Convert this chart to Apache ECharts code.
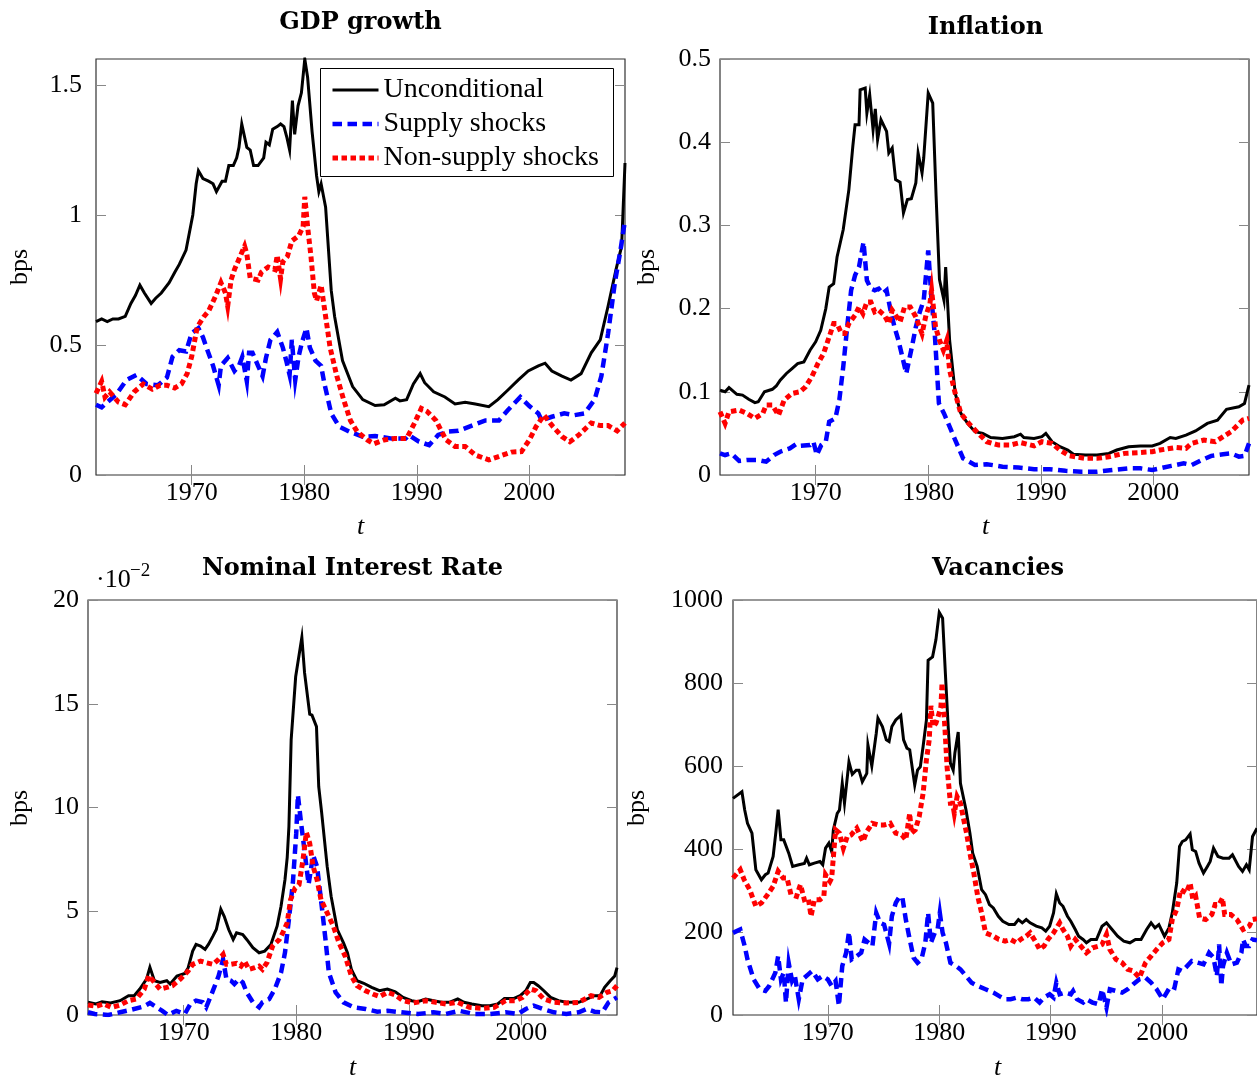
<!DOCTYPE html>
<html><head><meta charset="utf-8">
<script src="https://cdn.jsdelivr.net/npm/echarts@6/dist/echarts.min.js"></script>
<style>html,body{margin:0;padding:0;background:#fff}#c{width:1257px;height:1082px}</style>
</head><body><div id="c"></div>
<script>
// ---------- data ----------
const xRange = [1961.5, 2008.5];
const xTickValues = [1970, 1980, 1990, 2000];
const panelTitles = ['GDP growth', 'Inflation', 'Nominal Interest Rate', 'Vacancies'];
const seriesNames = ['Unconditional', 'Supply shocks', 'Non-supply shocks'];
const gdpYTicks = [0, 0.5, 1, 1.5];
const gdpYMax = 1.6;
const infYTicks = [0, 0.1, 0.2, 0.3, 0.4, 0.5];
const nirYTicks = [0, 5, 10, 15, 20];   // in units of 10^-2
const vacYTicks = [0, 200, 400, 600, 800, 1000];

const gdpUncond = [[1961.5,0.59],[1962.0,0.60],[1962.5,0.59],[1963.0,0.60],[1963.5,0.60],[1964.1,0.61],[1964.6,0.66],[1965.0,0.69],[1965.4,0.73],[1965.8,0.70],[1966.4,0.66],[1966.8,0.68],[1967.3,0.70],[1968.0,0.74],[1968.5,0.78],[1968.9,0.81],[1969.5,0.865],[1970.1,1.0],[1970.4,1.12],[1970.6,1.17],[1971.0,1.14],[1971.5,1.13],[1971.9,1.12],[1972.2,1.09],[1972.7,1.13],[1973.0,1.13],[1973.3,1.19],[1973.7,1.19],[1974.0,1.22],[1974.2,1.26],[1974.45,1.35],[1974.9,1.26],[1975.2,1.25],[1975.5,1.19],[1975.9,1.19],[1976.4,1.22],[1976.6,1.28],[1976.9,1.27],[1977.2,1.33],[1977.6,1.34],[1977.9,1.35],[1978.2,1.34],[1978.45,1.30],[1978.7,1.25],[1978.95,1.44],[1979.15,1.31],[1979.45,1.42],[1979.75,1.47],[1980.05,1.60],[1980.3,1.53],[1980.7,1.32],[1981.1,1.15],[1981.3,1.09],[1981.5,1.12],[1981.9,1.03],[1982.4,0.71],[1982.7,0.61],[1983.4,0.44],[1984.3,0.34],[1985.2,0.29],[1986.3,0.267],[1987.1,0.27],[1988.1,0.295],[1988.5,0.285],[1989.1,0.29],[1989.7,0.35],[1990.3,0.39],[1990.7,0.355],[1991.5,0.32],[1992.5,0.30],[1993.4,0.273],[1994.3,0.28],[1995.2,0.273],[1996.4,0.263],[1997.2,0.29],[1998.1,0.327],[1999.0,0.365],[1999.9,0.40],[2000.8,0.42],[2001.4,0.43],[2002.0,0.40],[2002.9,0.38],[2003.7,0.365],[2004.6,0.39],[2005.5,0.47],[2006.3,0.52],[2007.0,0.65],[2007.7,0.79],[2008.2,0.88],[2008.5,1.20]];
const gdpSupply = [[1961.5,0.27],[1962.0,0.26],[1962.5,0.28],[1963.3,0.31],[1964.2,0.365],[1965.1,0.385],[1966.0,0.35],[1967.0,0.345],[1967.8,0.375],[1968.3,0.455],[1968.9,0.48],[1969.5,0.475],[1970.0,0.545],[1970.6,0.565],[1971.0,0.53],[1971.4,0.48],[1971.9,0.42],[1972.4,0.345],[1972.6,0.42],[1973.2,0.45],[1973.8,0.40],[1974.2,0.42],[1974.5,0.455],[1974.9,0.36],[1975.1,0.47],[1975.4,0.47],[1975.9,0.42],[1976.3,0.38],[1976.6,0.45],[1977.0,0.52],[1977.6,0.55],[1978.1,0.49],[1978.4,0.44],[1978.7,0.385],[1978.9,0.52],[1979.2,0.365],[1979.5,0.455],[1979.8,0.51],[1980.2,0.565],[1980.5,0.49],[1981.0,0.44],[1981.5,0.42],[1981.8,0.35],[1982.4,0.237],[1983.1,0.186],[1984.0,0.167],[1985.2,0.147],[1986.3,0.15],[1987.8,0.14],[1989.0,0.14],[1989.3,0.154],[1990.2,0.128],[1991.1,0.115],[1991.9,0.154],[1992.8,0.167],[1993.7,0.17],[1994.9,0.19],[1996.1,0.21],[1997.3,0.21],[1998.1,0.25],[1999.2,0.30],[2000.0,0.265],[2000.8,0.237],[2001.1,0.21],[2002.0,0.224],[2003.1,0.237],[2004.0,0.23],[2004.9,0.237],[2005.8,0.29],[2006.4,0.38],[2007.0,0.545],[2007.6,0.74],[2008.1,0.865],[2008.5,0.98]];
const gdpNonSupply = [[1961.5,0.314],[1962.0,0.36],[1962.3,0.30],[1962.7,0.32],[1963.5,0.28],[1964.1,0.27],[1964.9,0.32],[1965.7,0.35],[1966.5,0.33],[1967.2,0.345],[1967.8,0.345],[1968.5,0.335],[1969.1,0.35],[1969.6,0.39],[1970.0,0.455],[1970.5,0.57],[1971.1,0.61],[1971.5,0.63],[1972.1,0.686],[1972.6,0.74],[1973.0,0.70],[1973.2,0.65],[1973.5,0.75],[1973.8,0.79],[1974.4,0.85],[1974.7,0.88],[1974.9,0.85],[1975.2,0.757],[1975.9,0.75],[1976.2,0.78],[1976.8,0.80],[1977.4,0.79],[1977.6,0.845],[1977.9,0.755],[1978.1,0.82],[1978.5,0.84],[1978.9,0.90],[1979.5,0.92],[1979.9,0.955],[1980.05,1.07],[1980.3,0.955],[1980.6,0.84],[1980.9,0.70],[1981.1,0.67],[1981.5,0.73],[1981.8,0.64],[1982.3,0.49],[1982.9,0.38],[1983.5,0.29],[1984.1,0.21],[1984.7,0.167],[1985.6,0.135],[1986.2,0.12],[1987.1,0.135],[1988.0,0.14],[1989.1,0.14],[1989.8,0.20],[1990.4,0.256],[1990.9,0.245],[1991.7,0.21],[1992.6,0.135],[1993.4,0.11],[1994.3,0.11],[1995.2,0.077],[1996.4,0.058],[1997.2,0.07],[1998.4,0.088],[1999.3,0.09],[2000.0,0.135],[2000.6,0.186],[2001.3,0.23],[2002.1,0.186],[2002.9,0.148],[2003.6,0.128],[2004.4,0.154],[2005.5,0.20],[2006.3,0.19],[2007.0,0.19],[2007.8,0.17],[2008.5,0.20]];

const infUncond = [[1961.5,0.102],[1961.95,0.10],[1962.3,0.105],[1963.0,0.097],[1963.5,0.096],[1964.05,0.091],[1964.6,0.087],[1964.9,0.088],[1965.45,0.10],[1966.15,0.103],[1966.5,0.107],[1966.85,0.114],[1967.4,0.122],[1967.9,0.128],[1968.4,0.134],[1968.95,0.136],[1969.5,0.15],[1970.0,0.16],[1970.45,0.174],[1970.9,0.20],[1971.2,0.226],[1971.6,0.23],[1971.9,0.262],[1972.45,0.295],[1972.95,0.343],[1973.3,0.395],[1973.5,0.421],[1973.85,0.421],[1973.95,0.463],[1974.4,0.465],[1974.55,0.435],[1974.8,0.457],[1975.1,0.415],[1975.3,0.44],[1975.5,0.403],[1975.8,0.427],[1976.3,0.413],[1976.5,0.387],[1976.8,0.393],[1977.1,0.355],[1977.5,0.352],[1977.8,0.315],[1978.15,0.331],[1978.5,0.332],[1978.9,0.351],[1979.1,0.387],[1979.45,0.363],[1979.6,0.381],[1980.0,0.459],[1980.4,0.447],[1980.7,0.335],[1981.0,0.235],[1981.4,0.21],[1981.55,0.25],[1981.9,0.162],[1982.4,0.098],[1982.9,0.074],[1983.5,0.062],[1984.15,0.052],[1984.85,0.05],[1985.55,0.045],[1986.6,0.044],[1987.65,0.046],[1988.2,0.049],[1988.5,0.045],[1989.4,0.044],[1990.1,0.046],[1990.45,0.05],[1991.0,0.04],[1991.7,0.034],[1992.4,0.03],[1992.9,0.025],[1993.95,0.024],[1995.0,0.024],[1996.05,0.026],[1996.75,0.03],[1997.8,0.034],[1998.85,0.035],[1999.9,0.035],[2000.6,0.038],[2001.5,0.045],[2002.0,0.044],[2002.9,0.048],[2003.75,0.053],[2004.8,0.062],[2005.7,0.066],[2006.5,0.079],[2007.6,0.082],[2008.1,0.086],[2008.5,0.108]];
const infSupply = [[1961.5,0.026],[1961.95,0.024],[1962.5,0.026],[1963.2,0.017],[1963.9,0.018],[1964.9,0.018],[1965.6,0.016],[1966.3,0.024],[1966.85,0.028],[1967.7,0.032],[1968.25,0.037],[1968.6,0.035],[1969.5,0.036],[1969.8,0.04],[1970.1,0.024],[1970.5,0.036],[1970.9,0.04],[1971.2,0.064],[1971.75,0.068],[1972.1,0.09],[1972.45,0.13],[1972.8,0.178],[1973.15,0.222],[1973.5,0.24],[1973.85,0.25],[1974.25,0.28],[1974.55,0.234],[1974.9,0.224],[1975.25,0.222],[1975.6,0.224],[1975.95,0.218],[1976.3,0.222],[1976.65,0.198],[1977.0,0.178],[1977.35,0.162],[1977.7,0.142],[1978.05,0.122],[1978.55,0.154],[1978.9,0.178],[1979.25,0.196],[1979.6,0.21],[1980.0,0.27],[1980.3,0.21],[1980.6,0.166],[1980.95,0.086],[1981.4,0.074],[1981.9,0.058],[1982.4,0.042],[1983.1,0.02],[1984.15,0.012],[1985.2,0.013],[1986.6,0.01],[1988.0,0.009],[1989.4,0.007],[1990.8,0.007],[1992.2,0.005],[1993.6,0.004],[1995.0,0.004],[1996.4,0.006],[1997.8,0.008],[1998.85,0.008],[1999.9,0.006],[2000.6,0.008],[2001.6,0.011],[2002.7,0.014],[2003.4,0.012],[2004.3,0.018],[2005.15,0.023],[2006.2,0.025],[2006.9,0.026],[2007.6,0.022],[2008.1,0.023],[2008.5,0.038]];
const infNonSupply = [[1961.5,0.076],[1961.95,0.062],[1962.3,0.076],[1963.2,0.078],[1963.9,0.074],[1964.6,0.068],[1965.3,0.074],[1965.6,0.084],[1966.15,0.084],[1966.7,0.072],[1967.2,0.09],[1967.9,0.098],[1968.6,0.10],[1969.1,0.106],[1969.65,0.118],[1970.2,0.134],[1970.7,0.146],[1971.15,0.164],[1971.6,0.182],[1971.9,0.182],[1972.3,0.17],[1972.6,0.17],[1972.95,0.182],[1973.5,0.192],[1973.85,0.202],[1974.2,0.194],[1974.55,0.208],[1974.9,0.208],[1975.25,0.196],[1975.6,0.198],[1976.1,0.192],[1976.5,0.182],[1976.8,0.198],[1977.2,0.19],[1977.5,0.184],[1977.9,0.202],[1978.4,0.202],[1978.9,0.19],[1979.45,0.17],[1979.8,0.192],[1980.15,0.206],[1980.3,0.222],[1980.65,0.178],[1981.0,0.162],[1981.35,0.15],[1981.65,0.162],[1981.9,0.126],[1982.4,0.098],[1982.9,0.074],[1983.6,0.062],[1984.3,0.052],[1985.2,0.04],[1986.25,0.036],[1987.3,0.036],[1988.2,0.039],[1989.4,0.035],[1990.1,0.04],[1991.0,0.038],[1991.7,0.03],[1992.55,0.023],[1993.95,0.02],[1995.0,0.02],[1996.05,0.022],[1997.45,0.026],[1998.85,0.027],[1999.9,0.028],[2000.6,0.03],[2002.0,0.033],[2002.9,0.032],[2003.4,0.038],[2004.5,0.042],[2005.5,0.04],[2006.2,0.046],[2006.9,0.052],[2007.95,0.066],[2008.5,0.068]];

const nirUncond = [[1961.5,0.61],[1962.2,0.53],[1962.75,0.64],[1963.5,0.58],[1964.35,0.69],[1965.1,0.93],[1965.6,0.93],[1966.1,1.25],[1966.7,1.73],[1967.0,2.3],[1967.4,1.65],[1967.9,1.57],[1968.5,1.65],[1968.8,1.49],[1969.4,1.88],[1970.1,2.0],[1970.4,2.28],[1970.8,3.08],[1971.1,3.4],[1971.5,3.32],[1971.9,3.16],[1972.2,3.4],[1972.6,3.8],[1972.9,4.12],[1973.3,5.1],[1973.6,4.76],[1974.0,4.12],[1974.4,3.64],[1974.7,3.96],[1975.25,3.88],[1975.6,3.64],[1976.15,3.24],[1976.7,3.0],[1977.2,3.08],[1977.75,3.4],[1978.3,4.28],[1978.65,5.24],[1979.0,6.52],[1979.2,7.6],[1979.35,9.07],[1979.55,13.26],[1979.95,16.3],[1980.5,18.2],[1980.74,16.5],[1981.2,14.5],[1981.4,14.45],[1981.57,14.5],[1981.8,13.9],[1982.0,11.0],[1982.25,9.8],[1982.75,7.16],[1983.1,5.72],[1983.65,4.12],[1984.2,3.48],[1984.55,3.0],[1984.9,2.2],[1985.4,1.65],[1986.0,1.53],[1986.7,1.33],[1987.4,1.17],[1988.1,1.25],[1988.8,1.12],[1989.5,0.85],[1990.25,0.69],[1990.8,0.64],[1991.5,0.77],[1992.2,0.69],[1992.9,0.61],[1993.6,0.61],[1994.35,0.77],[1994.9,0.61],[1995.6,0.53],[1996.5,0.45],[1997.2,0.45],[1997.9,0.53],[1998.5,0.8],[1999.35,0.8],[1999.9,0.93],[2000.4,1.17],[2000.8,1.57],[2001.1,1.57],[2001.5,1.41],[2002.0,1.17],[2002.6,0.85],[2003.3,0.69],[2004.0,0.61],[2005.1,0.61],[2005.8,0.77],[2006.5,0.93],[2007.0,0.93],[2007.4,1.33],[2007.9,1.65],[2008.3,1.88],[2008.5,2.28]];
const nirSupply = [[1961.5,0.13],[1962.1,0.05],[1963.3,0.0],[1964.35,0.13],[1965.4,0.26],[1966.5,0.42],[1967.0,0.58],[1967.6,0.37],[1968.1,0.2],[1968.6,0.0],[1969.35,0.2],[1970.1,0.05],[1970.6,0.53],[1971.1,0.69],[1971.7,0.61],[1972.0,0.37],[1972.6,1.17],[1973.1,1.88],[1973.5,2.68],[1973.8,1.73],[1974.2,1.65],[1974.5,1.49],[1974.9,1.73],[1975.25,1.57],[1975.6,1.09],[1976.15,0.61],[1976.7,0.37],[1977.0,0.61],[1977.6,0.77],[1978.1,1.25],[1978.65,2.04],[1979.0,3.0],[1979.35,4.6],[1979.7,6.36],[1980.0,8.75],[1980.15,10.6],[1980.4,9.4],[1980.8,7.64],[1981.1,6.3],[1981.5,7.7],[1981.85,7.16],[1982.2,5.56],[1982.6,3.64],[1982.9,2.04],[1983.5,1.09],[1984.2,0.61],[1985.1,0.37],[1986.15,0.29],[1987.2,0.16],[1988.1,0.2],[1989.35,0.13],[1990.8,0.05],[1992.2,0.13],[1993.3,0.05],[1994.5,0.2],[1995.8,0.05],[1997.2,0.05],[1998.6,0.13],[1999.7,0.05],[2000.4,0.29],[2001.1,0.45],[2001.9,0.29],[2002.9,0.13],[2004.0,0.05],[2005.1,0.13],[2005.8,0.29],[2006.5,0.16],[2007.2,0.13],[2007.75,0.61],[2008.5,0.85]];
const nirNonSupply = [[1961.5,0.48],[1962.2,0.42],[1962.9,0.53],[1963.6,0.37],[1964.35,0.48],[1965.1,0.69],[1965.8,0.77],[1966.5,1.25],[1966.9,1.9],[1967.4,1.57],[1967.9,1.25],[1968.5,1.33],[1969.0,1.41],[1969.7,1.73],[1970.4,2.12],[1970.8,2.44],[1971.5,2.6],[1972.0,2.52],[1972.6,2.44],[1973.1,2.68],[1973.5,2.92],[1973.8,2.44],[1974.2,2.44],[1974.7,2.49],[1975.1,2.36],[1975.4,2.6],[1975.8,2.2],[1976.3,2.28],[1976.7,2.36],[1977.0,2.2],[1977.4,2.52],[1977.9,3.32],[1978.5,3.64],[1978.8,3.96],[1979.2,4.44],[1979.5,5.56],[1979.9,6.12],[1980.25,6.28],[1980.6,7.48],[1980.9,8.8],[1981.2,8.27],[1981.5,7.16],[1981.85,6.52],[1982.2,5.56],[1982.75,4.92],[1983.3,4.28],[1983.8,3.48],[1984.35,2.84],[1984.9,1.88],[1985.4,1.41],[1986.15,1.17],[1986.85,1.0],[1987.4,0.89],[1988.1,1.09],[1988.8,0.96],[1989.5,0.69],[1990.4,0.58],[1991.5,0.69],[1992.4,0.61],[1993.3,0.53],[1994.35,0.61],[1995.4,0.37],[1996.5,0.32],[1997.6,0.37],[1998.6,0.69],[1999.5,0.69],[2000.1,0.85],[2000.8,1.25],[2001.3,1.17],[2002.0,0.77],[2002.9,0.61],[2004.0,0.58],[2005.1,0.61],[2006.2,0.93],[2006.9,0.85],[2007.6,1.09],[2008.1,1.17],[2008.5,1.41]];

const vacUncond = [[1961.5,522],[1962.3,538],[1962.55,494],[1962.8,462],[1963.2,438],[1963.55,350],[1964.05,326],[1964.4,338],[1964.65,342],[1965.1,382],[1965.35,442],[1965.55,495],[1965.8,422],[1966.05,422],[1966.5,390],[1966.85,358],[1967.4,362],[1967.9,365],[1968.1,378],[1968.35,362],[1968.8,366],[1969.3,370],[1969.55,362],[1969.8,402],[1970.1,414],[1970.35,394],[1970.5,446],[1970.85,486],[1971.05,494],[1971.3,558],[1971.5,510],[1971.9,610],[1972.2,580],[1972.55,590],[1972.8,590],[1973.1,562],[1973.5,582],[1973.6,651],[1973.95,600],[1974.35,679],[1974.5,715],[1974.9,695],[1975.25,663],[1975.5,659],[1975.75,695],[1976.1,711],[1976.55,722],[1976.8,663],[1977.1,643],[1977.35,639],[1977.8,554],[1978.05,590],[1978.3,598],[1978.55,647],[1978.85,711],[1979.0,855],[1979.4,863],[1979.7,904],[1980.0,970],[1980.3,956],[1980.55,823],[1980.8,695],[1981.0,607],[1981.25,590],[1981.4,631],[1981.7,682],[1981.9,558],[1982.4,494],[1982.75,438],[1983.0,390],[1983.4,358],[1983.8,302],[1984.15,290],[1984.5,266],[1984.85,258],[1985.3,238],[1985.7,226],[1986.25,218],[1986.75,218],[1987.1,230],[1987.45,222],[1987.8,230],[1988.15,222],[1988.7,214],[1989.2,210],[1989.55,202],[1989.9,214],[1990.25,246],[1990.5,292],[1990.8,270],[1991.1,262],[1991.5,238],[1991.8,226],[1992.2,206],[1992.5,190],[1992.9,182],[1993.2,174],[1993.6,182],[1994.1,182],[1994.6,214],[1995.0,222],[1995.5,206],[1996.0,190],[1996.55,178],[1997.1,174],[1997.6,182],[1998.1,182],[1998.6,206],[1999.0,222],[1999.35,210],[1999.7,218],[2000.2,190],[2000.6,210],[2000.9,246],[2001.3,318],[2001.55,406],[2001.8,418],[2002.1,422],[2002.5,436],[2002.7,398],[2003.0,394],[2003.3,366],[2003.7,342],[2004.05,358],[2004.3,370],[2004.6,402],[2005.0,382],[2005.45,378],[2006.0,378],[2006.3,386],[2006.85,358],[2007.2,346],[2007.55,362],[2007.8,350],[2008.1,430],[2008.5,450]];
const vacSupply = [[1961.5,198],[1962.15,206],[1962.55,166],[1962.8,134],[1963.35,86],[1963.9,62],[1964.4,58],[1964.75,70],[1965.3,102],[1965.55,142],[1965.8,86],[1966.05,102],[1966.25,30],[1966.5,125],[1966.8,82],[1967.05,94],[1967.4,38],[1967.75,86],[1968.25,98],[1968.6,106],[1969.1,86],[1969.55,94],[1970.0,86],[1970.35,70],[1970.7,82],[1971.0,22],[1971.3,118],[1971.65,150],[1971.9,200],[1972.15,134],[1972.6,142],[1973.0,150],[1973.3,182],[1973.65,174],[1974.0,166],[1974.35,246],[1974.7,222],[1975.05,218],[1975.5,172],[1975.75,238],[1976.1,270],[1976.45,286],[1976.7,282],[1977.0,230],[1977.35,182],[1977.7,138],[1978.05,126],[1978.4,134],[1978.75,174],[1979.0,246],[1979.25,174],[1979.6,198],[1979.85,206],[1980.05,246],[1980.3,198],[1980.6,174],[1981.0,126],[1981.5,118],[1981.9,110],[1982.4,94],[1982.9,78],[1983.45,70],[1984.15,62],[1984.85,54],[1985.35,46],[1985.9,38],[1986.4,38],[1986.95,42],[1987.45,38],[1988.0,38],[1988.5,42],[1989.0,30],[1989.4,42],[1989.9,50],[1990.25,42],[1990.5,78],[1990.8,50],[1991.3,54],[1991.8,50],[1992.0,58],[1992.35,38],[1992.9,30],[1993.2,38],[1993.75,30],[1994.3,26],[1994.6,62],[1995.0,18],[1995.3,62],[1995.85,58],[1996.4,54],[1996.9,62],[1997.4,74],[1997.95,86],[1998.5,90],[1999.0,78],[1999.5,62],[2000.05,38],[2000.4,54],[2000.75,70],[2001.1,66],[2001.45,110],[2001.8,106],[2002.1,114],[2002.65,130],[2003.2,126],[2003.7,122],[2004.2,150],[2004.6,138],[2004.9,94],[2005.1,170],[2005.3,70],[2005.45,118],[2005.8,150],[2006.2,122],[2006.7,126],[2007.1,150],[2007.25,182],[2007.5,166],[2007.8,166],[2008.1,182],[2008.5,180]];
const vacNonSupply = [[1961.5,330],[1962.15,350],[1962.5,326],[1963.0,302],[1963.55,262],[1964.05,270],[1964.6,290],[1965.1,310],[1965.55,346],[1966.0,330],[1966.35,330],[1966.7,290],[1967.2,286],[1967.55,314],[1967.9,278],[1968.25,282],[1968.5,238],[1968.8,278],[1969.3,278],[1969.65,286],[1969.8,338],[1970.2,322],[1970.35,330],[1970.7,446],[1971.05,438],[1971.4,402],[1971.75,430],[1972.1,434],[1972.6,450],[1973.15,418],[1973.5,442],[1974.0,462],[1974.55,458],[1975.05,458],[1975.6,462],[1976.1,438],[1976.65,434],[1977.0,422],[1977.35,486],[1977.5,438],[1977.85,446],[1978.2,478],[1978.55,534],[1978.85,615],[1979.1,663],[1979.25,745],[1979.45,695],[1979.7,703],[1979.9,719],[1980.15,743],[1980.25,800],[1980.5,695],[1980.7,598],[1981.0,510],[1981.2,510],[1981.35,486],[1981.6,526],[1981.9,510],[1982.2,470],[1982.45,438],[1982.75,390],[1983.1,342],[1983.45,286],[1983.8,246],[1984.15,198],[1984.5,194],[1984.85,190],[1985.35,182],[1985.9,178],[1986.4,182],[1986.95,174],[1987.3,182],[1987.8,190],[1988.15,198],[1988.7,174],[1989.0,158],[1989.4,166],[1989.75,182],[1990.25,198],[1990.8,222],[1991.1,206],[1991.5,190],[1991.8,166],[1992.2,182],[1992.7,166],[1993.2,150],[1993.75,162],[1994.3,166],[1994.6,170],[1995.0,194],[1995.3,158],[1995.85,134],[1996.4,126],[1996.9,110],[1997.4,106],[1997.95,90],[1998.5,126],[1999.0,142],[1999.5,158],[2000.05,174],[2000.6,182],[2000.9,230],[2001.3,254],[2001.65,302],[2002.15,294],[2002.5,318],[2002.75,278],[2003.0,286],[2003.35,234],[2003.9,230],[2004.45,242],[2004.75,266],[2005.1,266],[2005.4,282],[2005.6,242],[2006.15,242],[2006.7,230],[2007.25,206],[2007.8,214],[2008.1,230],[2008.5,232]];

// ---------- layout / style ----------
const FONT = '"Liberation Serif", "Times New Roman", serif';
const TITLE_FONT = 'bold 24px "DejaVu Serif", serif';
const panels = [
  { grid: {left: 96,  top: 59,  width: 529, height: 416}, yMax: gdpYMax, yTicks: gdpYTicks, labMargin: 14,
    data: [gdpUncond, gdpSupply, gdpNonSupply], title: [360.5, 23], bps: [20, 267], t: [360.5, 527] },
  { grid: {left: 720, top: 59,  width: 529, height: 416}, yMax: 0.5, yTicks: infYTicks, labMargin: 9,
    data: [infUncond, infSupply, infNonSupply], title: [985.5, 27.5], bps: [647, 267], t: [985.5, 527] },
  { grid: {left: 88,  top: 600, width: 529, height: 415}, yMax: 20, yTicks: nirYTicks, labMargin: 9,
    data: [nirUncond, nirSupply, nirNonSupply], title: [352.5, 569], bps: [20, 808], t: [352.5, 1068] },
  { grid: {left: 733, top: 600, width: 529, height: 415}, yMax: 1000, yTicks: vacYTicks, labMargin: 10,
    data: [vacUncond, vacSupply, vacNonSupply], title: [998, 569], bps: [637, 808], t: [997.5, 1068] }
];
const lineStyles = [
  { color: '#000000', width: 3, type: 'solid' },
  { color: '#0000ff', width: 4.5, type: [9.5, 5.5] },
  { color: '#ff0000', width: 5, type: [5.5, 3.5] }
];
const tickStyle = { color: '#888888', width: 1 };

const grids = [], xAxes = [], yAxes = [], series = [], graphics = [];
panels.forEach((p, i) => {
  grids.push(Object.assign({ show: true, borderColor: '#333', borderWidth: 1.2, backgroundColor: 'transparent', containLabel: false }, p.grid));
  const baseX = { gridIndex: i, type: 'value', min: xRange[0], max: xRange[1],
    axisLine: { show: false }, splitLine: { show: false } };
  xAxes.push(Object.assign({}, baseX, { position: 'bottom',
    axisTick: { show: true, inside: true, length: 10, customValues: xTickValues, lineStyle: tickStyle },
    axisLabel: { show: true, customValues: xTickValues, margin: 5, color: '#000', fontFamily: FONT, fontSize: 26,
      formatter: v => String(v) } }));
  xAxes.push(Object.assign({}, baseX, { position: 'top',
    axisTick: { show: true, inside: true, length: 10, customValues: xTickValues, lineStyle: tickStyle },
    axisLabel: { show: false } }));
  const baseY = { gridIndex: i, type: 'value', min: 0, max: p.yMax,
    axisLine: { show: false }, splitLine: { show: false } };
  yAxes.push(Object.assign({}, baseY, { position: 'left',
    axisTick: { show: true, inside: true, length: 10, customValues: p.yTicks, lineStyle: tickStyle },
    axisLabel: { show: true, customValues: p.yTicks, margin: p.labMargin, color: '#000', fontFamily: FONT, fontSize: 26,
      formatter: v => String(v) } }));
  yAxes.push(Object.assign({}, baseY, { position: 'right',
    axisTick: { show: true, inside: true, length: 10, customValues: p.yTicks, lineStyle: tickStyle },
    axisLabel: { show: false } }));
  p.data.forEach((d, k) => {
    series.push({ type: 'line', name: seriesNames[k], xAxisIndex: 2 * i, yAxisIndex: 2 * i,
      data: d, showSymbol: false, symbol: 'none', animation: false,
      itemStyle: { color: lineStyles[k].color },
      lineStyle: Object.assign({ join: 'miter', cap: 'butt' }, lineStyles[k]) });
  });
  graphics.push({ type: 'text', x: p.title[0], y: p.title[1], z: 10,
    style: { text: panelTitles[i], font: TITLE_FONT, fill: '#000', align: 'center', verticalAlign: 'middle' } });
  graphics.push({ type: 'text', x: p.bps[0], y: p.bps[1], rotation: Math.PI / 2, z: 10,
    style: { text: 'bps', font: '26px ' + FONT, fill: '#000', align: 'center', verticalAlign: 'middle' } });
  graphics.push({ type: 'text', x: p.t[0], y: p.t[1], z: 10,
    style: { text: 't', font: 'italic 26px ' + FONT, fill: '#000', align: 'center', verticalAlign: 'middle' } });
});
// scale marker of the interest-rate panel
graphics.push({ type: 'text', x: 96, y: 580, z: 10,
  style: { text: '\u00b710', font: '26px ' + FONT, fill: '#000', align: 'left', verticalAlign: 'middle' } });
graphics.push({ type: 'text', x: 130, y: 571, z: 10,
  style: { text: '\u22122', font: '19px ' + FONT, fill: '#000', align: 'left', verticalAlign: 'middle' } });
// legend frame
graphics.push({ type: 'rect', z: 3, shape: { x: 320.5, y: 68.5, width: 293, height: 108 },
  style: { fill: '#fff', stroke: '#000', lineWidth: 1 } });

const legendData = seriesNames.map((n, k) => ({
  name: n,
  itemStyle: { opacity: 0, color: 'rgba(0,0,0,0)', borderWidth: 0 },
  lineStyle: { color: lineStyles[k].color, width: lineStyles[k].width, type: lineStyles[k].type, opacity: 1 }
}));

const chart = echarts.init(document.getElementById('c'), null, { renderer: 'canvas' });
chart.setOption({
  animation: false,
  backgroundColor: '#fff',
  grid: grids, xAxis: xAxes, yAxis: yAxes, series: series,
  legend: { show: true, orient: 'vertical', left: 321, top: 71, z: 5,
    padding: [5, 5, 5, 9], itemGap: 6, itemWidth: 46, itemHeight: 14,
    data: legendData, selectedMode: false,
    textStyle: { fontFamily: FONT, fontSize: 28, color: '#000', lineHeight: 27 } },
  graphic: graphics
});
</script></body></html>
